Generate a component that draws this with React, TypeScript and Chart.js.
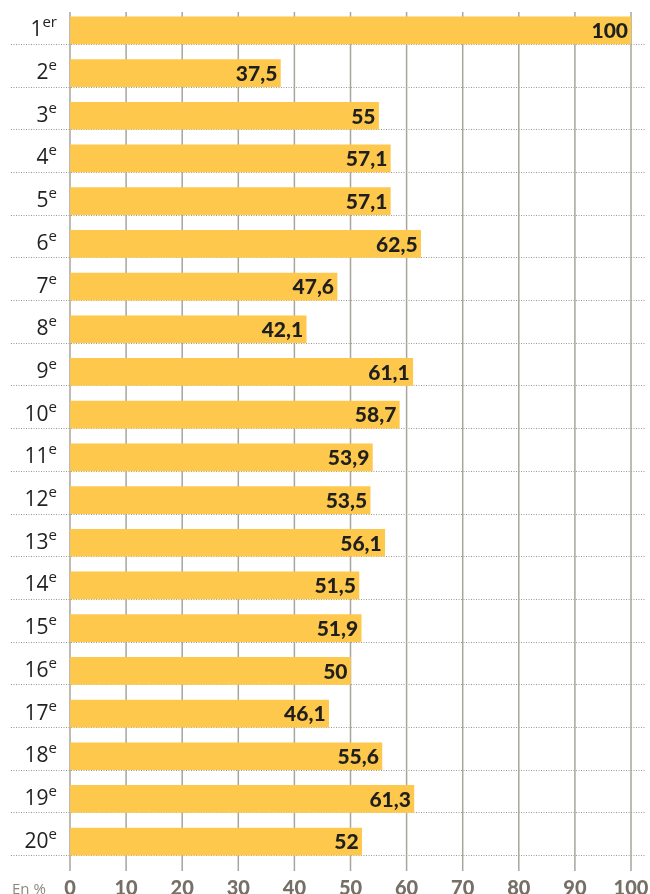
import React, { useEffect, useRef } from "react";
import { Chart, registerables } from "chart.js";

Chart.register(...registerables);

const categories = ["1", "2", "3", "4", "5", "6", "7", "8", "9", "10", "11", "12", "13", "14", "15", "16", "17", "18", "19", "20"];
const suffixes = ["er", "e", "e", "e", "e", "e", "e", "e", "e", "e", "e", "e", "e", "e", "e", "e", "e", "e", "e", "e"];
const values = [100, 37.5, 55, 57.1, 57.1, 62.5, 47.6, 42.1, 61.1, 58.7, 53.9, 53.5, 56.1, 51.5, 51.9, 50, 46.1, 55.6, 61.3, 52];
const xTicks = [0, 10, 20, 30, 40, 50, 60, 70, 80, 90, 100];
const unitLabel = "En %";

const BAR_COLOR = "#FDC84B";
const BAR_THICK = 27;

const decorPlugin = {
  id: "decor",
  beforeDatasetsDraw(chart: any) {
    const ctx = chart.ctx;
    const xs = chart.scales.x;
    const ys = chart.scales.y;
    ctx.save();
    ctx.strokeStyle = "#9c988f";
    ctx.lineWidth = 1;
    ctx.setLineDash([1, 1.5]);
    categories.forEach((_, i) => {
      const y = Math.round(ys.getPixelForValue(i) + BAR_THICK / 2) + 0.5;
      ctx.beginPath();
      ctx.moveTo(11, y);
      ctx.lineTo(645, y);
      ctx.stroke();
    });
    ctx.setLineDash([]);
    ctx.strokeStyle = "#a8a59c";
    ctx.lineWidth = 1.5;
    xTicks.forEach((t) => {
      const x = xs.getPixelForValue(t);
      ctx.beginPath();
      ctx.moveTo(x, 12);
      ctx.lineTo(x, 871);
      ctx.stroke();
    });
    ctx.restore();
  },
  afterDatasetsDraw(chart: any) {
    const ctx = chart.ctx;
    const xs = chart.scales.x;
    const ys = chart.scales.y;
    ctx.save();
    ctx.font = "900 21px Lato";
    ctx.fillStyle = "#1f1f1f";
    ctx.textAlign = "right";
    ctx.textBaseline = "middle";
    values.forEach((v, i) => {
      const x = xs.getPixelForValue(v) - 3;
      const y = ys.getPixelForValue(i) + 1;
      ctx.fillText(String(v).replace(".", ","), x, y);
    });
    ctx.textAlign = "left";
    ctx.textBaseline = "alphabetic";
    ctx.fillStyle = "#222222";
    categories.forEach((c, i) => {
      const cy = ys.getPixelForValue(i);
      ctx.font = "21px 'Open Sans'";
      const w1 = ctx.measureText(c).width;
      ctx.font = "15px 'Open Sans'";
      const w2 = ctx.measureText(suffixes[i]).width;
      const start = 57 - w1 - w2;
      ctx.font = "21px 'Open Sans'";
      ctx.fillText(c, start, cy + 6);
      ctx.font = "15px 'Open Sans'";
      ctx.fillText(suffixes[i], start + w1, cy - 3);
    });
    ctx.font = "15px 'Open Sans'";
    ctx.fillStyle = "#8d877f";
    ctx.textBaseline = "middle";
    ctx.fillText(unitLabel, 12, 890);
    ctx.restore();
  },
};

export default function App() {
  const ref = useRef<HTMLCanvasElement>(null);
  useEffect(() => {
    if (!ref.current) return;
    const chart = new Chart(ref.current, {
      type: "bar",
      data: {
        labels: categories.map((c, i) => c + suffixes[i]),
        datasets: [
          {
            data: values,
            backgroundColor: BAR_COLOR,
            borderWidth: 0,
            barThickness: BAR_THICK,
          },
        ],
      },
      options: {
        indexAxis: "y",
        responsive: false,
        animation: false,
        devicePixelRatio: 1,
        layout: { padding: { left: 70, right: 19, top: 9, bottom: 0 } },
        plugins: { legend: { display: false }, tooltip: { enabled: false } },
        scales: {
          y: { display: false },
          x: {
            type: "linear",
            min: 0,
            max: 100,
            afterBuildTicks: (s: any) => {
              s.ticks = xTicks.map((v) => ({ value: v }));
            },
            afterFit: (s: any) => {
              s.height = 31;
              s.paddingLeft = 0;
              s.paddingRight = 0;
            },
            grid: { display: true, drawOnChartArea: false, drawTicks: true, tickLength: 8, color: "rgba(0,0,0,0)" },
            border: { display: false },
            ticks: {
              padding: 6,
              color: "#766f66",
              font: { family: "Lato", weight: "900", size: 20 },
              maxRotation: 0,
            },
          },
        },
      },
      plugins: [decorPlugin],
    } as any);
    return () => chart.destroy();
  }, []);
  return (
    <div style={{ position: "absolute", left: 0, top: 0, width: 650, height: 894, background: "#fff" }}>
      <canvas ref={ref} width={650} height={894} style={{ display: "block", width: 650, height: 894 }} />
    </div>
  );
}
